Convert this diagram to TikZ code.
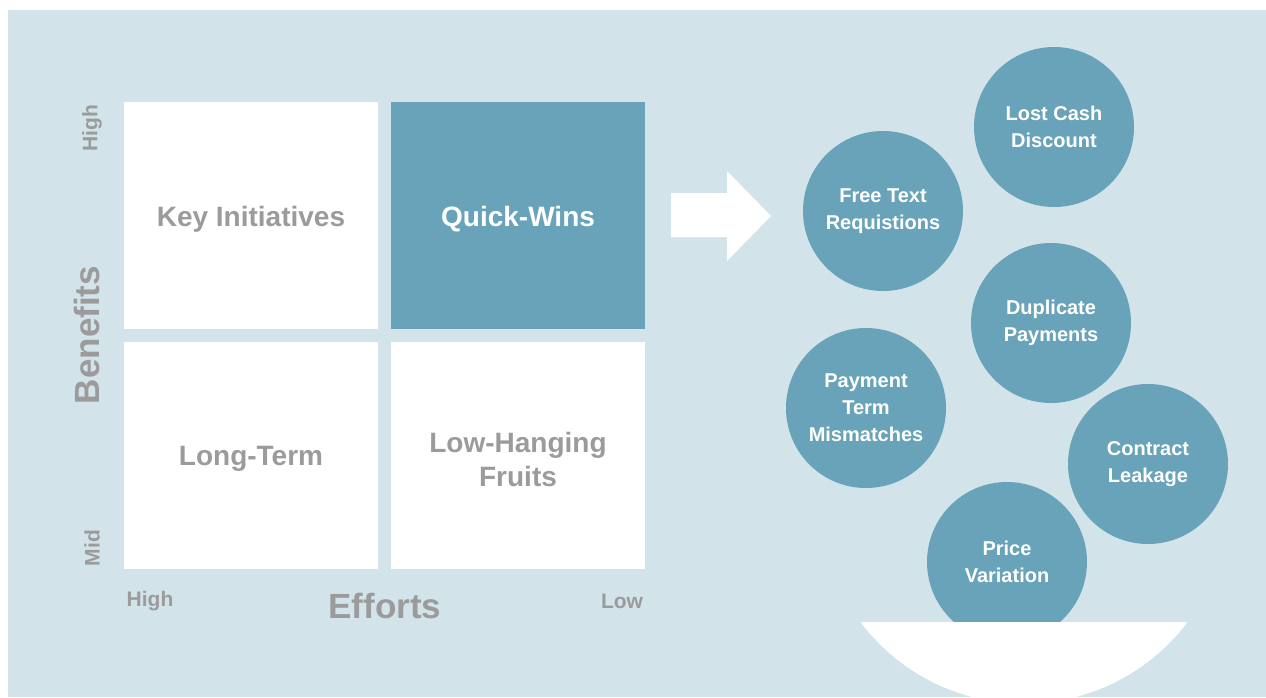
\documentclass[tikz,border=0pt]{standalone}
\usepackage{fontspec}
\setmainfont{Liberation Sans}
\definecolor{bgblue}{HTML}{D3E3EA}
\definecolor{teal}{HTML}{68A3B9}
\definecolor{greytext}{HTML}{9B9B9B}
\tikzset{
  quad/.style={fill=white, draw=none},
  quadtext/.style={font=\fontsize{28}{34}\selectfont\bfseries, text=greytext, align=center},
  axissmall/.style={font=\fontsize{21}{24}\selectfont\bfseries, text=greytext},
  axisbig/.style={font=\fontsize{35}{40}\selectfont\bfseries, text=greytext},
  bubble/.style={circle, fill=teal, minimum size=160pt, inner sep=0pt, text=white,
    align=center, font=\fontsize{20}{27}\selectfont\bfseries},
}
\begin{document}
\begin{tikzpicture}[x=1pt,y=-1pt]
\useasboundingbox (0,0) rectangle (1266,697);
\fill[white] (0,0) rectangle (1266,697);
\fill[bgblue] (8,10) rectangle (1266,697);
% quadrants
\fill[quad] (124,102) rectangle (378,329);
\fill[teal] (391,102) rectangle (645,329);
\fill[quad] (124,342) rectangle (378,569);
\fill[quad] (391,342) rectangle (645,569);
\node[quadtext] (ki) at (251,219) {Key Initiatives};
\node[quadtext, text=white] (qw) at (518,219) {Quick-Wins};
\node[quadtext] (lt) at (251,459) {Long-Term};
\node[quadtext] (lh) at (518,459) {Low-Hanging\\Fruits};
% axes labels
\node[axissmall, rotate=90] (bh) at (92,128) {High};
\node[axissmall, rotate=90] (bm) at (92,548) {Mid};
\node[axisbig, rotate=90] (ben) at (87,335) {Benefits};
\node[axissmall] (eh) at (150,601) {High};
\node[axisbig] (eff) at (385,606) {Efforts};
\node[axissmall] (el) at (622,601) {Low};
% arrow
\fill[white] (671,193) -- (727,193) -- (727,171) -- (771,216) -- (727,261) -- (727,237) -- (671,237) -- cycle;
% bubbles
\node[bubble] (lcd) at (1054,127) {Lost Cash\\Discount};
\node[bubble] (ftr) at (883,211) {Free Text\\Requistions};
\node[bubble] (dp) at (1051,323) {Duplicate\\Payments};
\node[bubble] (ptm) at (866,408) {Payment\\Term\\Mismatches};
\node[bubble] (cl) at (1148,464) {Contract\\Leakage};
\node[bubble] (pv) at (1007,562) {Price\\Variation};
% bowl
\begin{scope}
\clip (800,622) rectangle (1266,697);
\fill[white] (1024,499) circle[radius=204.6];
\end{scope}
\end{tikzpicture}
\end{document}
